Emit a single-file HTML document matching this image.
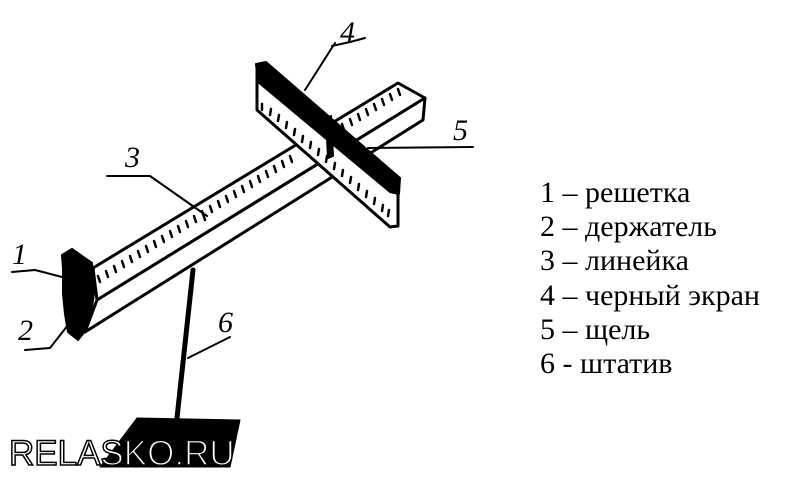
<!DOCTYPE html>
<html><head><meta charset="utf-8"><style>
html,body{margin:0;padding:0;background:#fff;}
svg{display:block}
</style></head><body>
<svg width="786" height="477" viewBox="0 0 786 477" xmlns="http://www.w3.org/2000/svg">
<g stroke="#000" fill="none" stroke-linecap="round" stroke-linejoin="round">
<polygon points="93,268 398,83 425,98 97,300" fill="#fff" stroke-width="3"/>
<polygon points="97,300 425,98 423,120 85,332" fill="#fff" stroke-width="3"/>
<g stroke-width="2.5">
<path d="M98,276l2,6 M106,271l2,6 M114,266l2,6 M122,261l2,6 M130,256l2,6 M138,251l2,6 M146,246l2,6 M154,241l2,6 M162,236l2,6 M170,231l2,6 M178,226l2,6 M186,221l2,6 M194,216l2,6 M202,211l3,9 M210,206l2,6 M218,201l2,6 M226,196l2,6 M234,191l2,6 M242,186l2,6 M250,181l2,6 M258,176l2,6 M266,171l2,6 M274,166l2,6 M282,161l2,6 M290,156l2,6 M342,124l2,6 M350,119l2,6 M358,114l2,6 M366,109l2,6 M374,104l2,6 M382,99l2,6 M390,94l2,6 M398,89l2,6"/>
</g>
<polygon points="257,70 398,190 398,226 390,227 257,110" fill="#fff" stroke-width="3"/>
<g stroke-width="2.5">
<path d="M262,110l0,-6 M270,115l1,-6 M278,121l1,-6 M286,128l1,-6 M294,135l1,-6 M302,142l1,-6 M310,148l1,-6 M318,155l1,-6 M326,162l1,-6 M334,169l1,-6 M342,176l1,-6 M350,183l1,-6 M358,190l1,-6 M366,197l1,-6 M374,204l1,-6 M382,211l1,-6 M388,216l1,-6"/>
</g>
<polygon points="256,64 266,62 400,178 399,194 390,192 258,82" fill="#000" stroke-width="2"/>
<path d="M326,118 l5,-2 l2,40 l-5,2z" fill="#000" stroke-width="2"/>
<path d="M62,255 l10,-6 l20,14 l2,30 l-3,22 l-5,15 l-8,10 l-10,-8 l-3,-18 l-2,-20 l0,-25z" fill="#000" stroke-width="2"/>
<line x1="193" y1="270" x2="177" y2="418" stroke-width="5"/>
<polygon points="137,418 240,420 230,467 100,467" fill="#000" stroke-width="1"/>
<g stroke-width="2">
<path d="M12,272 L35,270 L62,277"/>
<path d="M25,350 L50,348 L68,325"/>
<path d="M107,176 L150,176 L207,216"/>
<path d="M332,46 L350,42 L365,38 M335,43 L305,90"/>
<path d="M368,148 L473,147"/>
<path d="M230,337 L188,358"/>
</g>
</g>
<g font-family="Liberation Serif, serif" font-style="italic" font-size="30" fill="#000">
<text x="12" y="264">1</text>
<text x="18" y="340">2</text>
<text x="125" y="167">3</text>
<text x="340" y="42">4</text>
<text x="453" y="140">5</text>
<text x="218" y="332">6</text>
</g>
<g font-family="Liberation Serif, serif" font-size="30" fill="#000">
<text x="540" y="202">1 – решетка</text>
<text x="540" y="236">2 – держатель</text>
<text x="540" y="270">3 – линейка</text>
<text x="540" y="305">4 – черный экран</text>
<text x="540" y="339">5 – щель</text>
<text x="540" y="373">6 - штатив</text>
</g>
<text x="9" y="465" font-family="Liberation Sans, sans-serif" font-size="35" fill="#fff" stroke="#000" stroke-width="1.5">RELASKO.RU</text>
</svg>
</body></html>
